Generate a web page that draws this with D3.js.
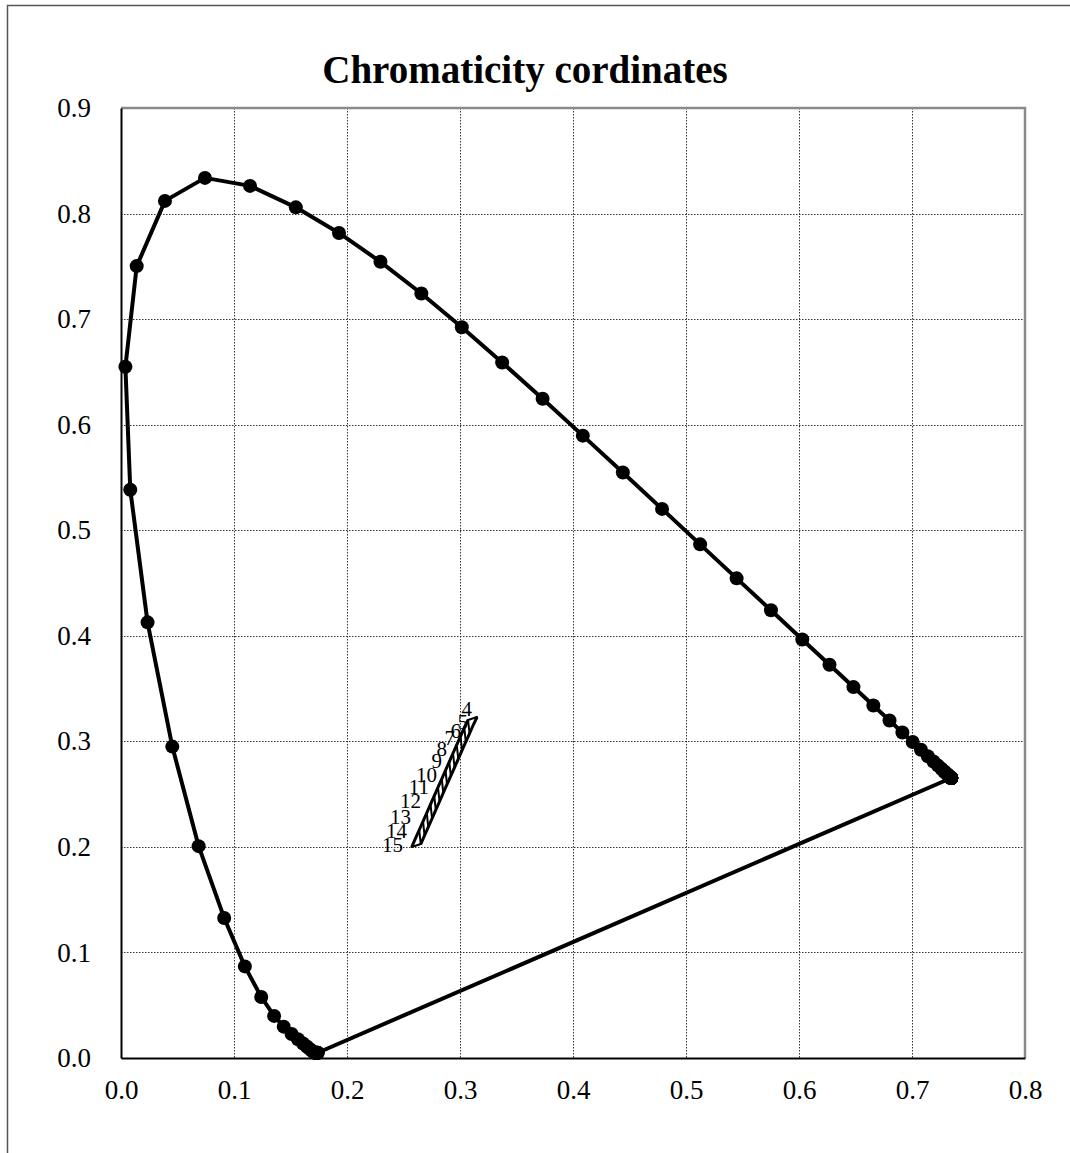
<!DOCTYPE html>
<html>
<head>
<meta charset="utf-8">
<script src="https://cdn.jsdelivr.net/npm/d3@7"></script>
<style>
  html, body { margin: 0; padding: 0; background: #fff; }
  svg { display: block; }
  text { font-family: "Liberation Serif", "Times New Roman", serif; fill: #000; }
</style>
</head>
<body>
<svg id="chart" width="1070" height="1153"></svg>
<script>
// ---- Data ----
const chartTitle = "Chromaticity cordinates";
const xTicks = [0.0, 0.1, 0.2, 0.3, 0.4, 0.5, 0.6, 0.7, 0.8];
const yTicks = [0.0, 0.1, 0.2, 0.3, 0.4, 0.5, 0.6, 0.7, 0.8, 0.9];

// Spectral locus (5 nm steps, 380..780 nm)
const wavelengths = [380,385,390,395,400,405,410,415,420,425,430,435,440,445,450,455,460,465,470,475,480,485,490,495,500,505,510,515,520,525,530,535,540,545,550,555,560,565,570,575,580,585,590,595,600,605,610,615,620,625,630,635,640,645,650,655,660,665,670,675,680,685,690,695,700,705,710,715,720,725,730,735,740,745,750,755,760,765,770,775,780];
const locusX = [0.1741,0.1740,0.1738,0.1736,0.1733,0.1730,0.1726,0.1721,0.1714,0.1703,0.1689,0.1669,0.1644,0.1611,0.1566,0.1510,0.1440,0.1355,0.1241,0.1096,0.0913,0.0687,0.0454,0.0235,0.0082,0.0039,0.0139,0.0389,0.0743,0.1142,0.1547,0.1929,0.2296,0.2658,0.3016,0.3373,0.3731,0.4087,0.4441,0.4788,0.5125,0.5448,0.5752,0.6029,0.6270,0.6482,0.6658,0.6801,0.6915,0.7006,0.7079,0.7140,0.7190,0.7230,0.7260,0.7283,0.7300,0.7311,0.7320,0.7327,0.7334,0.7340,0.7344,0.7346,0.7347,0.7347,0.7347,0.7347,0.7347,0.7347,0.7347,0.7347,0.7347,0.7347,0.7347,0.7347,0.7347,0.7347,0.7347,0.7347,0.7347];
const locusY = [0.0050,0.0050,0.0049,0.0049,0.0048,0.0048,0.0048,0.0048,0.0051,0.0058,0.0069,0.0086,0.0109,0.0138,0.0177,0.0227,0.0297,0.0399,0.0578,0.0868,0.1327,0.2007,0.2950,0.4127,0.5384,0.6548,0.7502,0.8120,0.8338,0.8262,0.8059,0.7816,0.7543,0.7243,0.6923,0.6589,0.6245,0.5896,0.5547,0.5202,0.4866,0.4544,0.4242,0.3965,0.3725,0.3514,0.3340,0.3197,0.3083,0.2993,0.2920,0.2859,0.2809,0.2770,0.2740,0.2717,0.2700,0.2689,0.2680,0.2673,0.2666,0.2660,0.2656,0.2654,0.2653,0.2653,0.2653,0.2653,0.2653,0.2653,0.2653,0.2653,0.2653,0.2653,0.2653,0.2653,0.2653,0.2653,0.2653,0.2653,0.2653];

// Hatched band: left edge and right edge points
const bandLeftX  = [0.2573,0.2606,0.2639,0.2673,0.2706,0.2739,0.2772,0.2805,0.2839,0.2872,0.2905,0.2938,0.2971,0.3005,0.3038,0.3071];
const bandLeftY  = [0.1999,0.2080,0.2160,0.2241,0.2322,0.2402,0.2483,0.2564,0.2645,0.2725,0.2806,0.2887,0.2967,0.3048,0.3129,0.3202];
const bandRightX = [0.2653,0.2686,0.2719,0.2753,0.2786,0.2819,0.2852,0.2885,0.2919,0.2952,0.2985,0.3018,0.3051,0.3085,0.3118,0.3151];
const bandRightY = [0.2027,0.2108,0.2188,0.2269,0.2350,0.2430,0.2511,0.2592,0.2673,0.2753,0.2834,0.2915,0.2995,0.3076,0.3157,0.3230];

// Point labels
const labelNums = [4,5,6,7,8,9,10,11,12,13,14,15];
const labelX = [0.3106,0.3071,0.3009,0.2956,0.2885,0.2841,0.2796,0.2726,0.2655,0.2566,0.2531,0.2496];
const labelY = [0.3306,0.3183,0.3098,0.3032,0.2928,0.2814,0.2681,0.2567,0.2434,0.2283,0.2150,0.2018];

// ---- Layout ----
const W = 1070, H = 1153;
const plot = { left: 121, right: 1025, top: 108, bottom: 1058 };

const svg = d3.select("#chart");
svg.append("rect").attr("width", W).attr("height", H).attr("fill", "#fff");

// outer chart frame (only left/top visible)
svg.append("rect")
  .attr("x", 7.5).attr("y", 5.5).attr("width", W + 20).attr("height", H + 20)
  .attr("fill", "none").attr("stroke", "#555").attr("stroke-width", 1.5);

const x = d3.scaleLinear().domain([0, 0.8]).range([plot.left, plot.right]);
const y = d3.scaleLinear().domain([0, 0.9]).range([plot.bottom, plot.top]);

// title
svg.append("text")
  .attr("x", 525).attr("y", 83)
  .attr("text-anchor", "middle")
  .style("font-size", "39px").style("font-weight", "bold")
  .text(chartTitle);

// gridlines
const grid = svg.append("g");
grid.selectAll("line.vg").data(xTicks.filter(d => d > 0 && d < 0.8)).enter().append("line")
  .attr("x1", d => Math.round(x(d)) + 0.5).attr("x2", d => Math.round(x(d)) + 0.5)
  .attr("y1", plot.top).attr("y2", plot.bottom)
  .attr("stroke", "#333").attr("stroke-width", 1).attr("stroke-dasharray", "1.5,1.5");
grid.selectAll("line.hg").data(yTicks.filter(d => d > 0 && d < 0.9)).enter().append("line")
  .attr("y1", d => Math.round(y(d)) + 0.5).attr("y2", d => Math.round(y(d)) + 0.5)
  .attr("x1", plot.left).attr("x2", plot.right)
  .attr("stroke", "#333").attr("stroke-width", 1).attr("stroke-dasharray", "1.5,1.5");

// plot-area border: top/right grey
svg.append("path")
  .attr("d", `M${plot.left},${plot.top}H${plot.right}V${plot.bottom}`)
  .attr("fill", "none").attr("stroke", "#8a8a8a").attr("stroke-width", 2.5);

// axes
const xAxis = d3.axisBottom(x).tickValues(xTicks).tickSize(0).tickPadding(22)
  .tickFormat(d3.format(".1f"));
const yAxis = d3.axisLeft(y).tickValues(yTicks).tickSize(0).tickPadding(30)
  .tickFormat(d3.format(".1f"));

const gx = svg.append("g").attr("transform", `translate(0,${plot.bottom})`).call(xAxis);
const gy = svg.append("g").attr("transform", `translate(${plot.left},0)`).call(yAxis);
[gx, gy].forEach(g => {
  g.select(".domain").attr("stroke", "#000").attr("stroke-width", 2);
  g.selectAll("text").style("font-size", "27px")
    .style("font-family", '"Liberation Serif", "Times New Roman", serif');
});

// spectral locus
const locus = locusX.map((v, i) => ({ x: v, y: locusY[i], nm: wavelengths[i] }));
const closed = locus.concat([locus[0]]);
const line = d3.line().x(d => x(d.x)).y(d => y(d.y));

svg.append("path").datum(closed)
  .attr("d", line).attr("fill", "none")
  .attr("stroke", "#000").attr("stroke-width", 4).attr("stroke-linejoin", "round");

svg.append("g").selectAll("circle").data(locus).enter().append("circle")
  .attr("cx", d => x(d.x)).attr("cy", d => y(d.y)).attr("r", 7)
  .attr("fill", "#000");

// hatched band
const left = bandLeftX.map((v, i) => ({ x: v, y: bandLeftY[i] }));
const right = bandRightX.map((v, i) => ({ x: v, y: bandRightY[i] }));
const n = left.length;
// hatch: from each right-edge point up to the left-edge point two steps higher, plus end caps
const hatch = [];
hatch.push([left[0], right[0]]);
for (let i = 0; i + 2 < n; i++) hatch.push([right[i], left[i + 2]]);
hatch.push([left[n - 1], right[n - 1]]);

const band = svg.append("g");
band.selectAll("line.h").data(hatch).enter().append("line")
  .attr("x1", d => x(d[0].x)).attr("y1", d => y(d[0].y))
  .attr("x2", d => x(d[1].x)).attr("y2", d => y(d[1].y))
  .attr("stroke", "#000").attr("stroke-width", 2).attr("stroke-linecap", "round");
band.append("path").datum(left).attr("d", line)
  .attr("fill", "none").attr("stroke", "#000").attr("stroke-width", 3);
band.append("path").datum(right).attr("d", line)
  .attr("fill", "none").attr("stroke", "#000").attr("stroke-width", 3);

// labels
svg.append("g").selectAll("text").data(labelNums).enter().append("text")
  .attr("x", (d, i) => x(labelX[i])).attr("y", (d, i) => y(labelY[i]))
  .attr("text-anchor", "end").attr("dominant-baseline", "central")
  .style("font-size", "21px")
  .text(d => d);
</script>
</body>
</html>
